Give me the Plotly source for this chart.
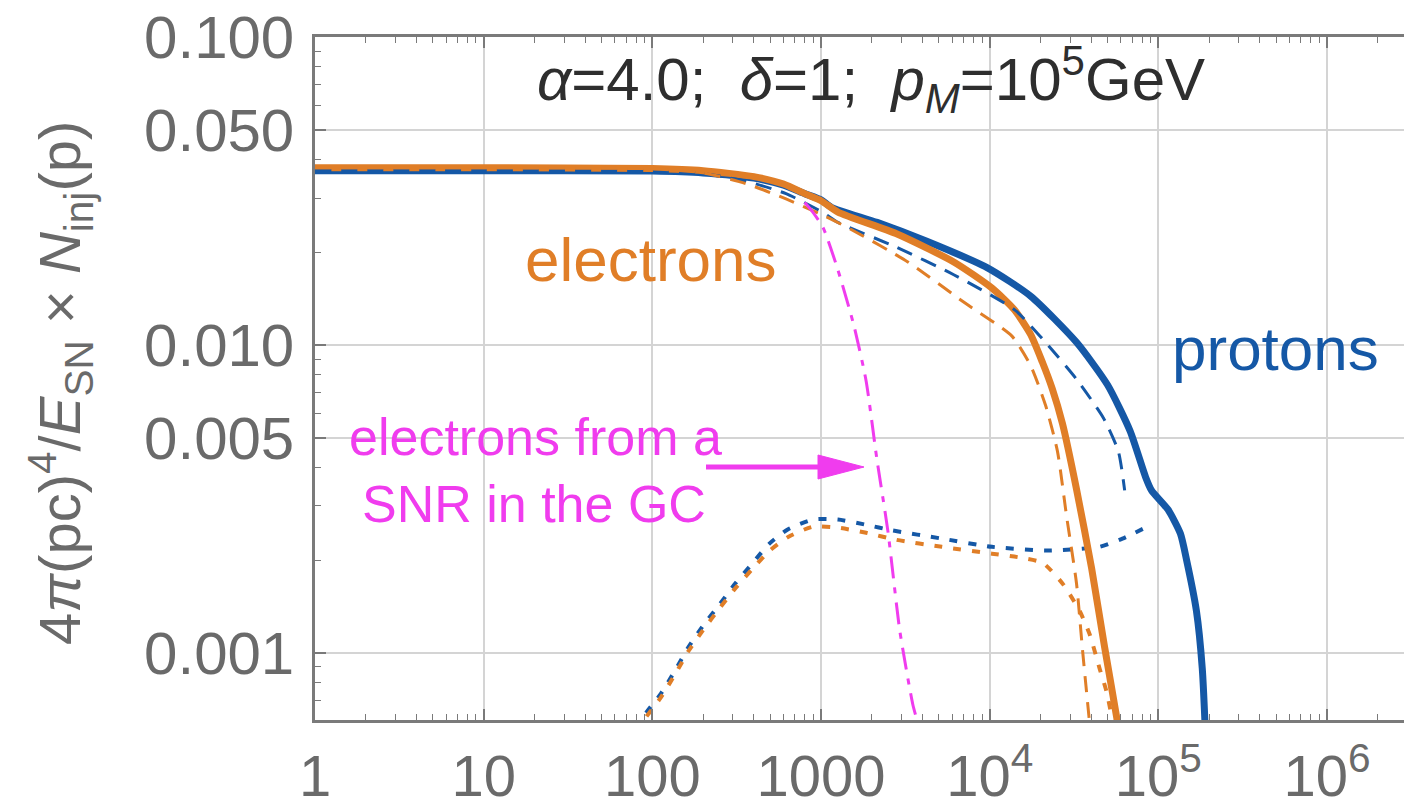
import plotly.graph_objects as go

# ---------------- data ----------------
# protons, total (thick solid blue)
p_tot_x = [1, 10, 100, 200, 400, 600, 800, 1000, 1150, 2150, 4240, 9700, 17500, 32700,
           50000, 68000, 84000, 91000, 114000, 135000, 147000, 168000, 182000, 190000]
p_tot_y = [0.0368, 0.0368, 0.0367, 0.0362, 0.0348, 0.0330, 0.0310, 0.0296, 0.0280, 0.0250,
           0.0217, 0.0178, 0.0144, 0.0102, 0.00741, 0.00525, 0.00372, 0.00337, 0.00292,
           0.00244, 0.00200, 0.00137, 0.00089, 0.00055]

# electrons, total (thick solid orange)
e_tot_x = [1, 10, 100, 200, 400, 600, 800, 1000, 1260, 2780, 6120, 10300, 14000, 17500,
           20500, 23500, 27000, 32700, 40200, 47900, 57100, 60000]
e_tot_y = [0.0376, 0.0376, 0.0374, 0.0368, 0.0352, 0.0333, 0.0310, 0.0294, 0.0270, 0.0230,
           0.0186, 0.0153, 0.0130, 0.0108, 0.00880, 0.00720, 0.00555, 0.00340, 0.00188,
           0.00105, 0.00060, 0.00050]

# protons, dashed component
p_dash_x = [1, 10, 100, 200, 360, 620, 1040, 1260, 2780, 6120, 14060, 21400, 32700,
            47300, 57900, 63100]
p_dash_y = [0.0368, 0.0368, 0.0366, 0.0360, 0.0340, 0.0310, 0.0268, 0.0250, 0.0208,
            0.0169, 0.0130, 0.0102, 0.00774, 0.00578, 0.00451, 0.00337]

# electrons, dashed component
e_dash_x = [1, 10, 100, 200, 360, 620, 1040, 1490, 3270, 7110, 13500, 17500, 21400, 25200,
            28600, 32700, 35500, 39100, 41000]
e_dash_y = [0.0376, 0.0376, 0.0373, 0.0362, 0.0334, 0.0298, 0.0263, 0.0238, 0.0186, 0.0137,
            0.0107, 0.00855, 0.00638, 0.00452, 0.00276, 0.00168, 0.00102, 0.00059, 0.00045]

# protons, dotted component
p_dot_x = [70, 92, 111, 137, 163, 203, 249, 310, 391, 492, 638, 897, 1260, 1820, 2630,
           5200, 10300, 21400, 32700, 44800, 61200, 88500]
p_dot_y = [0.00050, 0.00064, 0.00073, 0.00088, 0.00104, 0.00124, 0.00143, 0.00168, 0.00195,
           0.00226, 0.00252, 0.00271, 0.00271, 0.00261, 0.00250, 0.00235, 0.00221, 0.00215,
           0.00217, 0.00221, 0.00235, 0.00259]

# electrons, dotted component
e_dot_x = [70, 92, 111, 137, 163, 203, 249, 310, 391, 492, 638, 897, 1260, 1820, 2780,
           5200, 10300, 15100, 20600, 27000, 34100, 39100, 44800, 49200, 53500, 57000]
e_dot_y = [0.00049, 0.00062, 0.00071, 0.000855, 0.00101, 0.00120, 0.00139, 0.00162, 0.00187,
           0.00214, 0.00238, 0.00257, 0.00255, 0.00246, 0.00233, 0.00221, 0.00210, 0.00204,
           0.00196, 0.00168, 0.00137, 0.00115, 0.00089, 0.00075, 0.00060, 0.00048]

# electrons from a SNR in the GC (magenta dash-dot)
gc_x = [800, 885, 1030, 1260, 1570, 1850, 2140, 2490, 2930, 3500, 3750, 4000]
gc_y = [0.0290, 0.0272, 0.0240, 0.0175, 0.0115, 0.00764, 0.00428, 0.00249, 0.00118,
        0.00068, 0.00059, 0.00050]

x_tickvals = [1, 10, 100, 1000, 1e4, 1e5, 1e6]
x_ticktext = ["1", "10", "100", "1000", "10<sup>4</sup>", "10<sup>5</sup>", "10<sup>6</sup>"]
y_tickvals = [0.1, 0.05, 0.01, 0.005, 0.001]
y_ticktext = ["0.100", "0.050", "0.010", "0.005", "0.001"]

# ---------------- style ----------------
BLUE = "#1558a6"
ORANGE = "#e07e27"
MAGENTA = "#f03cee"
GRAY = "#6a6a6a"
FONT = "Liberation Sans, Arial, sans-serif"

W, H = 1404, 807
L, R, T, B = 315, 0, 37, 87

fig = go.Figure()

def add(x, y, color, width, dash="solid"):
    fig.add_trace(go.Scatter(x=x, y=y, mode="lines",
                             line=dict(color=color, width=width, dash=dash,
                                       shape="spline", smoothing=0.6),
                             showlegend=False, hoverinfo="skip"))

add(p_dot_x, p_dot_y, BLUE, 4, "8px,11px")
add(e_dot_x, e_dot_y, ORANGE, 4, "8px,11px")
add(p_tot_x, p_tot_y, BLUE, 7)
add(e_tot_x, e_tot_y, ORANGE, 7)
add(p_dash_x, p_dash_y, BLUE, 3, "16px,10px")
add(e_dash_x, e_dash_y, ORANGE, 3, "16px,10px")
add(gc_x, gc_y, MAGENTA, 3, "22px,9px,6px,9px")

# minor tick positions
x_minor = [m * 10 ** k for k in range(0, 7) for m in range(2, 10)]
y_minor = [m * 10 ** k for k in (-4, -3, -2) for m in range(2, 10) if not (k == -4 and m < 6)]
y_minor = [v for v in y_minor if v not in (0.005, 0.05)]

axis_common = dict(
    type="log", automargin=False,
    showline=True, linecolor="#7a7a7a", linewidth=2.5,
    ticks="inside", ticklen=11, tickwidth=1.5, tickcolor="#7a7a7a",
    showgrid=True, gridcolor="#d4d4d4", gridwidth=1.5,
    zeroline=False,
)

fig.update_xaxes(**axis_common, range=[0, 6.456], tickmode="array",
                 tickvals=x_tickvals, ticktext=x_ticktext, mirror="allticks",
                 ticklabelstandoff=4,
                 tickfont=dict(family=FONT, size=58, color=GRAY),
                 minor=dict(tickmode="array", tickvals=x_minor, ticks="inside",
                            ticklen=6, tickwidth=1.2, tickcolor="#7a7a7a", showgrid=False))
fig.update_yaxes(**axis_common, range=[-3.218, -1], tickmode="array",
                 tickvals=y_tickvals, ticktext=y_ticktext, mirror=False,
                 ticklabelstandoff=6,
                 tickfont=dict(family=FONT, size=60, color=GRAY),
                 minor=dict(tickmode="array", tickvals=y_minor, ticks="inside",
                            ticklen=6, tickwidth=1.2, tickcolor="#7a7a7a", showgrid=False))

def px2paper(px, py):
    return (px - L) / (W - L - R), (H - B - py) / (H - T - B)

annos = []
# y axis title
tx, ty = px2paper(60, 383)
annos.append(dict(xref="paper", yref="paper", x=tx, y=ty, showarrow=False, textangle=-90,
                  xanchor="center", yanchor="middle",
                  text="4<i>π</i>(pc)<sup>4</sup>/<i>E</i><sub>SN</sub> × <i>N</i><sub>inj</sub>(p)",
                  font=dict(family=FONT, size=58, color=GRAY)))
# parameter text
tx, ty = px2paper(871, 80)
annos.append(dict(xref="paper", yref="paper", x=tx, y=ty, showarrow=False,
                  xanchor="center", yanchor="middle",
                  text="<i>α</i>=4.0; &nbsp;<i>δ</i>=1; &nbsp;<i>p</i><sub><i>M</i></sub>=10<sup>5</sup>GeV",
                  font=dict(family=FONT, size=60, color="#2e2e2e")))
# electrons
tx, ty = px2paper(651, 259)
annos.append(dict(xref="paper", yref="paper", x=tx, y=ty, showarrow=False,
                  xanchor="center", yanchor="middle", text="electrons",
                  font=dict(family=FONT, size=62, color=ORANGE)))
# protons
tx, ty = px2paper(1275, 348)
annos.append(dict(xref="paper", yref="paper", x=tx, y=ty, showarrow=False,
                  xanchor="center", yanchor="middle", text="protons",
                  font=dict(family=FONT, size=62, color=BLUE)))
# magenta labels
tx, ty = px2paper(535, 437)
annos.append(dict(xref="paper", yref="paper", x=tx, y=ty, showarrow=False,
                  xanchor="center", yanchor="middle", text="electrons from a",
                  font=dict(family=FONT, size=52, color=MAGENTA)))
tx, ty = px2paper(534, 504)
annos.append(dict(xref="paper", yref="paper", x=tx, y=ty, showarrow=False,
                  xanchor="center", yanchor="middle", text="SNR in the GC",
                  font=dict(family=FONT, size=52, color=MAGENTA)))

# arrow (shaft + head) in paper coordinates
x0, y0 = px2paper(706, 467)
x1, y1 = px2paper(825, 467)
shapes = [dict(type="line", xref="paper", yref="paper", x0=x0, y0=y0, x1=x1, y1=y1,
               line=dict(color=MAGENTA, width=5))]
hx0, hy0 = px2paper(864, 467)
hx1, hy1 = px2paper(818, 455)
hx2, hy2 = px2paper(818, 479)
shapes.append(dict(type="path", xref="paper", yref="paper",
                   path=f"M {hx0},{hy0} L {hx1},{hy1} L {hx2},{hy2} Z",
                   fillcolor=MAGENTA, line=dict(color=MAGENTA, width=1)))

fig.update_layout(width=W, height=H, margin=dict(l=L, r=R, t=T, b=B),
                  paper_bgcolor="white", plot_bgcolor="white",
                  annotations=annos, shapes=shapes, showlegend=False)

fig.write_html("out.html")
